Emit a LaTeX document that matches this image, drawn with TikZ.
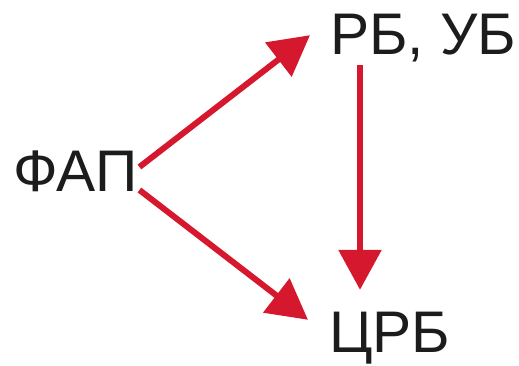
\documentclass[tikz,border=0pt]{standalone}
\usepackage{fontspec}
\setmainfont{Liberation Sans}
\usepackage{xcolor}
\usetikzlibrary{arrows.meta, positioning, calc}

\definecolor{arrowred}{RGB}{213,24,46}
\definecolor{textblack}{RGB}{28,28,28}

\begin{document}
\begin{tikzpicture}[x=1pt, y=-1pt, >={Triangle[length=40pt, width=42pt]},
  place/.style={anchor=base west, inner sep=0pt, text height=42pt, text depth=0pt, font=\fontsize{58.7}{60}\selectfont, text=textblack},
  link/.style={->, draw=arrowred, line width=6pt}]

\useasboundingbox (0,0) rectangle (519,366);

% Places
\node[place] (fap) at (13,192) {ФАП};
\node[place] (rb) at (330,55) {РБ, УБ};
\node[place] (crb) at (329,352) {ЦРБ};

% Connections
\draw[link] ([shift={(2,-4)}]fap.east) -- ([shift={(-20,-20)}]rb.south west);
\draw[link] ([shift={(2,19)}]fap.east) -- ([shift={(-21,10)}]crb.north west);
\draw[link] ([shift={(30,10)}]rb.south west) -- ([shift={(31,-20)}]crb.north west);

\end{tikzpicture}
\end{document}
